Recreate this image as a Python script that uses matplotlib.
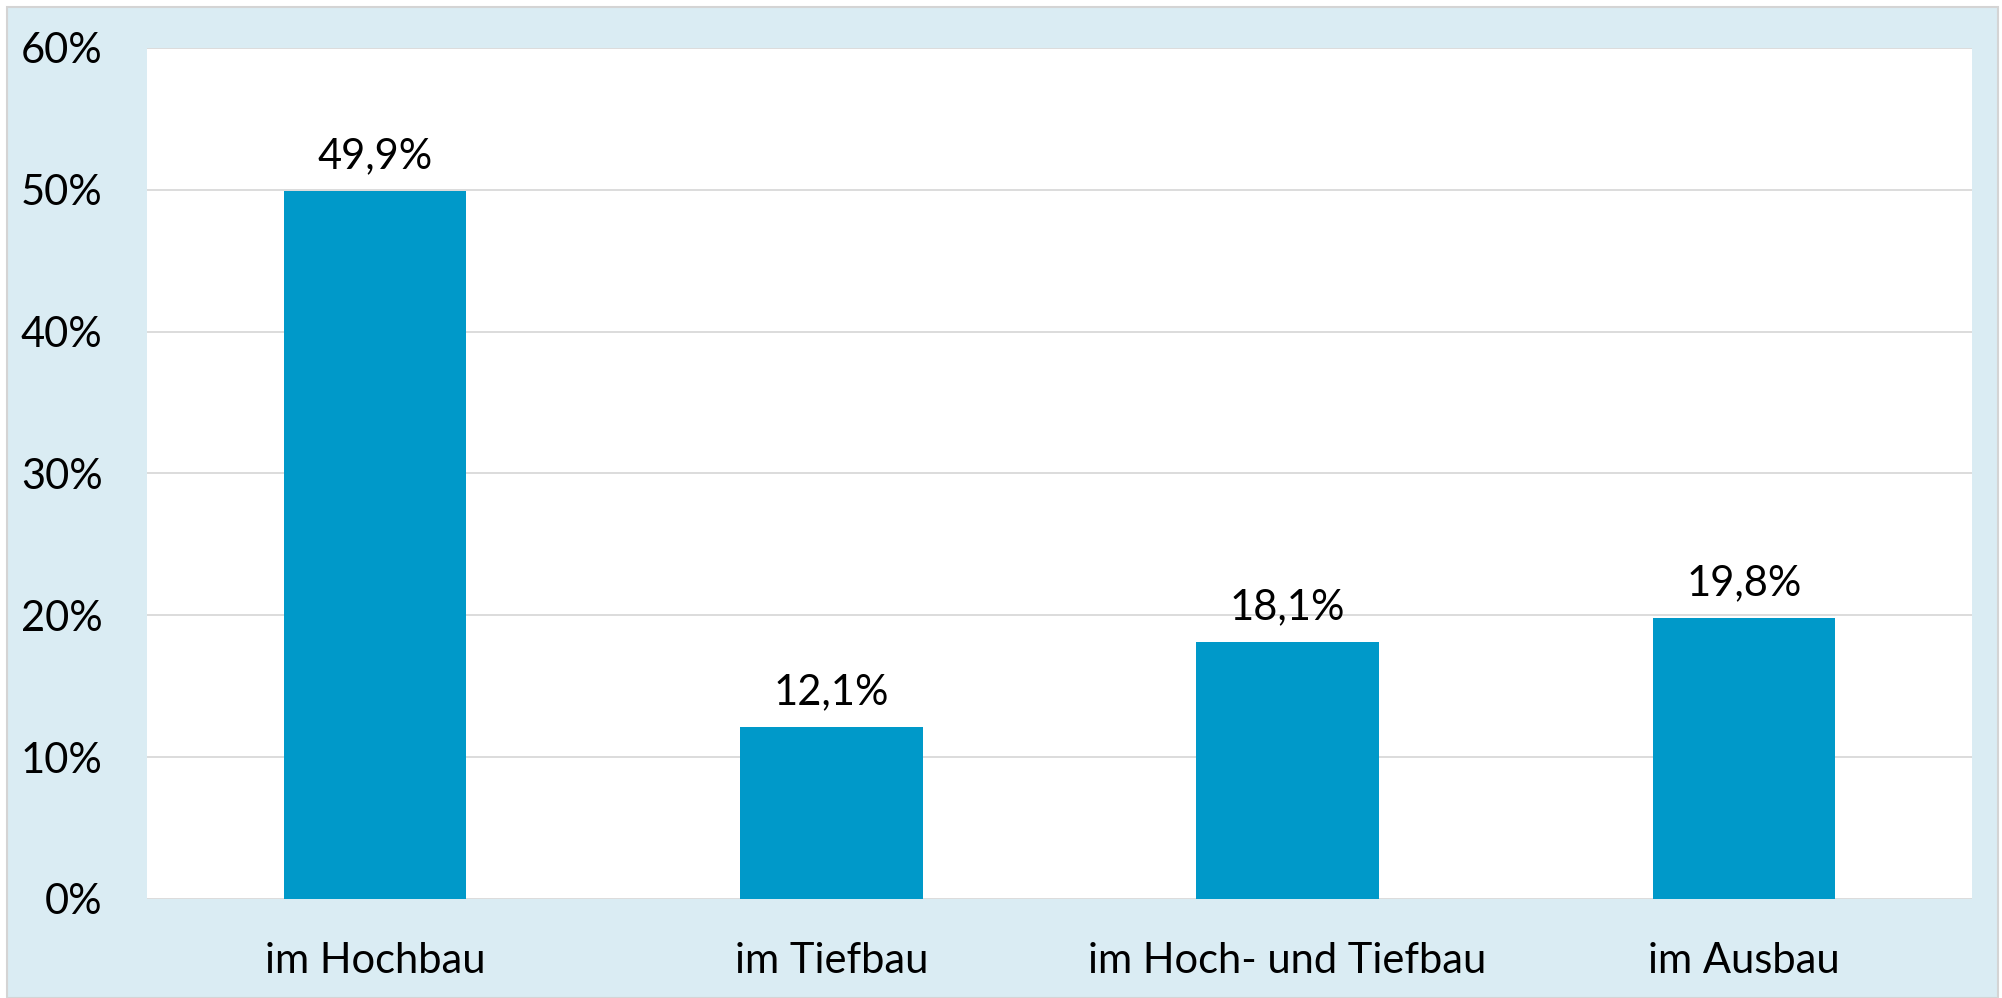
import matplotlib
matplotlib.use("Agg")
import matplotlib.pyplot as plt
from matplotlib.patches import Rectangle

categories = ["im Hochbau", "im Tiefbau", "im Hoch- und Tiefbau", "im Ausbau"]
values = [49.9, 12.1, 18.1, 19.8]
value_labels = ["49,9%", "12,1%", "18,1%", "19,8%"]
yticks = [0, 10, 20, 30, 40, 50, 60]
ytick_labels = ["0%", "10%", "20%", "30%", "40%", "50%", "60%"]

plt.rcParams['font.family'] = ['Lato', 'DejaVu Sans']

W, H = 2002, 998
fig = plt.figure(figsize=(W / 100, H / 100), dpi=100)
fig.patch.set_facecolor("white")

# outer light blue panel with grey border
fig.patches.append(Rectangle((7 / W, 0), (1998 - 7) / W, (H - 7) / H,
                             transform=fig.transFigure, facecolor="#DAECF3",
                             edgecolor="#D4D4D4", linewidth=1.5, zorder=-10))

ax = fig.add_axes([147 / W, (H - 899) / H, (1972 - 147) / W, (899 - 48) / H])
ax.set_zorder(1)
ax.set_facecolor("white")
x = range(len(categories))
bars = ax.bar(x, values, width=0.4, color="#0099C9", zorder=3)
ax.set_xlim(-0.5, len(categories) - 0.5)
ax.set_ylim(0, 60)
ax.set_yticks(yticks)
ax.set_yticklabels(ytick_labels)
ax.set_xticks(list(x))
ax.set_xticklabels(categories)
ax.yaxis.grid(True, color="#D9D9D9", linewidth=1.3, zorder=0)
ax.set_axisbelow(True)
for s in ax.spines.values():
    s.set_visible(False)
ax.tick_params(axis="y", length=0, pad=32, labelsize=30, labelcolor="black")
ax.tick_params(axis="x", length=0, pad=31, labelsize=30, labelcolor="black")

for xi, v, lab in zip(x, values, value_labels):
    ax.annotate(lab, (xi, v), xytext=(0, 16.5), textcoords="offset points",
                ha="center", va="baseline", fontsize=30, color="black")

fig.savefig("out.png", dpi=100, facecolor=fig.get_facecolor())
